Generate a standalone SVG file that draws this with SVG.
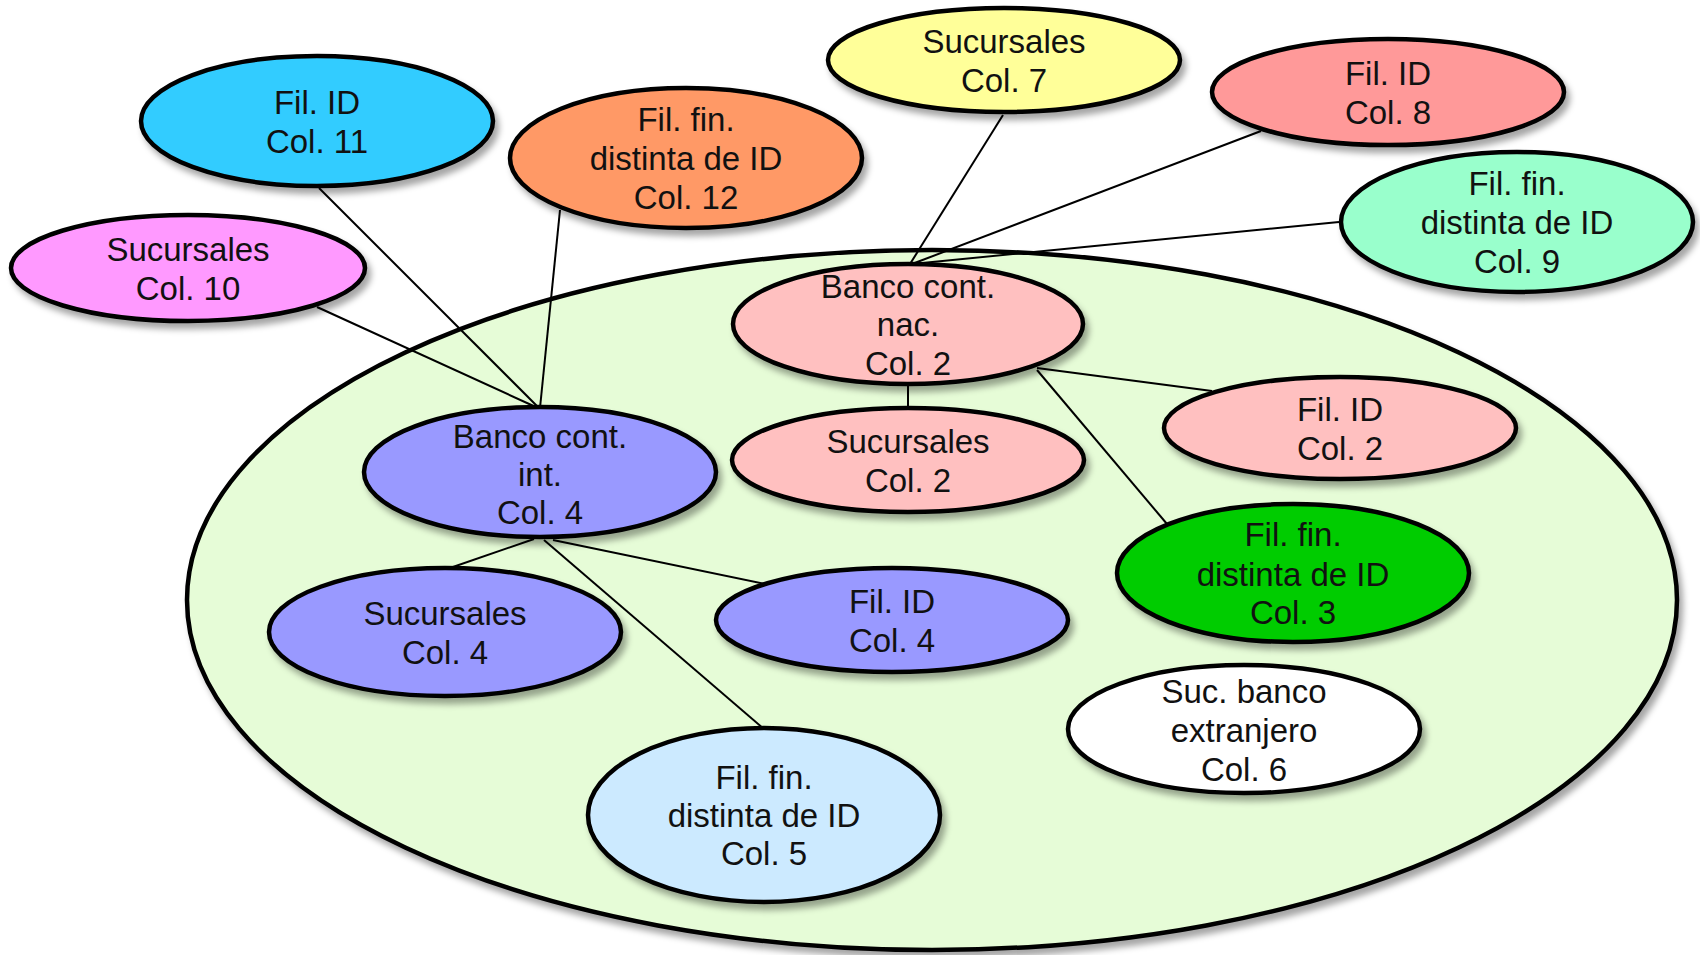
<svg xmlns="http://www.w3.org/2000/svg" width="1700" height="955" viewBox="0 0 1700 955">
<defs>
<filter id="sh" x="-10%" y="-10%" width="125%" height="130%">
<feDropShadow dx="4" dy="6" stdDeviation="3" flood-color="#000" flood-opacity="0.35"/>
</filter>
<style>
.n ellipse{stroke:#000;stroke-width:4.5;filter:url(#sh)}
.n text{font-family:"Liberation Sans","Open Sans",sans-serif;font-size:33px;fill:#111;text-anchor:middle}
.c line{stroke:#000;stroke-width:2}
</style>
</defs>
<rect width="1700" height="955" fill="#fff"/>
<g id="region"><ellipse cx="932" cy="600" rx="745" ry="350" fill="#e6fcd7" stroke="#000" stroke-width="4.5" filter="url(#sh)"/></g>
<g id="connectors" class="c">
<line x1="319" y1="188" x2="539" y2="408"/>
<line x1="560" y1="210" x2="540" y2="408"/>
<line x1="317" y1="307" x2="538" y2="408"/>
<line x1="1003" y1="115" x2="910" y2="264"/>
<line x1="1261" y1="131" x2="912" y2="264"/>
<line x1="1339" y1="222" x2="912" y2="264"/>
<line x1="908" y1="383" x2="908" y2="410"/>
<line x1="1037" y1="368" x2="1212" y2="391"/>
<line x1="1037" y1="370" x2="1167" y2="524"/>
<line x1="534" y1="539" x2="450" y2="568"/>
<line x1="553" y1="540" x2="765" y2="584"/>
<line x1="544" y1="540" x2="764" y2="729"/>
</g>
<g id="n11" class="n"><ellipse cx="317" cy="121" rx="176" ry="65" fill="#33ccff"/><text x="317" y="114">Fil. ID</text><text x="317" y="153">Col. 11</text></g>
<g id="n12" class="n"><ellipse cx="686" cy="158" rx="176" ry="70" fill="#ff9966"/><text x="686" y="131">Fil. fin.</text><text x="686" y="170">distinta de ID</text><text x="686" y="209">Col. 12</text></g>
<g id="n10" class="n"><ellipse cx="188" cy="268" rx="177" ry="53" fill="#ff99ff"/><text x="188" y="261">Sucursales</text><text x="188" y="300">Col. 10</text></g>
<g id="n7" class="n"><ellipse cx="1004" cy="60" rx="176" ry="52" fill="#ffff99"/><text x="1004" y="53">Sucursales</text><text x="1004" y="92">Col. 7</text></g>
<g id="n8" class="n"><ellipse cx="1388" cy="92" rx="176" ry="53" fill="#ff9999"/><text x="1388" y="85">Fil. ID</text><text x="1388" y="124">Col. 8</text></g>
<g id="n9" class="n"><ellipse cx="1517" cy="222" rx="176" ry="70" fill="#99ffcc"/><text x="1517" y="195">Fil. fin.</text><text x="1517" y="234">distinta de ID</text><text x="1517" y="273">Col. 9</text></g>
<g id="bnac" class="n"><ellipse cx="908" cy="324" rx="175" ry="60" fill="#ffc0c0"/><text x="908" y="298">Banco cont.</text><text x="908" y="336">nac.</text><text x="908" y="375">Col. 2</text></g>
<g id="suc2" class="n"><ellipse cx="908" cy="460" rx="176" ry="52" fill="#ffc0c0"/><text x="908" y="453">Sucursales</text><text x="908" y="492">Col. 2</text></g>
<g id="fid2" class="n"><ellipse cx="1340" cy="428" rx="176" ry="51" fill="#ffc0c0"/><text x="1340" y="421">Fil. ID</text><text x="1340" y="460">Col. 2</text></g>
<g id="bint" class="n"><ellipse cx="540" cy="472" rx="176" ry="65" fill="#9999ff"/><text x="540" y="448">Banco cont.</text><text x="540" y="486">int.</text><text x="540" y="524">Col. 4</text></g>
<g id="suc4" class="n"><ellipse cx="445" cy="632" rx="176" ry="64" fill="#9999ff"/><text x="445" y="625">Sucursales</text><text x="445" y="664">Col. 4</text></g>
<g id="fid4" class="n"><ellipse cx="892" cy="620" rx="176" ry="52" fill="#9999ff"/><text x="892" y="613">Fil. ID</text><text x="892" y="652">Col. 4</text></g>
<g id="n3" class="n"><ellipse cx="1293" cy="573" rx="176" ry="69" fill="#00cc00"/><text x="1293" y="546">Fil. fin.</text><text x="1293" y="586">distinta de ID</text><text x="1293" y="624">Col. 3</text></g>
<g id="n6" class="n"><ellipse cx="1244" cy="729" rx="176" ry="64" fill="#ffffff"/><text x="1244" y="703">Suc. banco</text><text x="1244" y="742">extranjero</text><text x="1244" y="781">Col. 6</text></g>
<g id="n5" class="n"><ellipse cx="764" cy="815" rx="176" ry="87" fill="#cceaff"/><text x="764" y="789">Fil. fin.</text><text x="764" y="827">distinta de ID</text><text x="764" y="865">Col. 5</text></g>
</svg>
